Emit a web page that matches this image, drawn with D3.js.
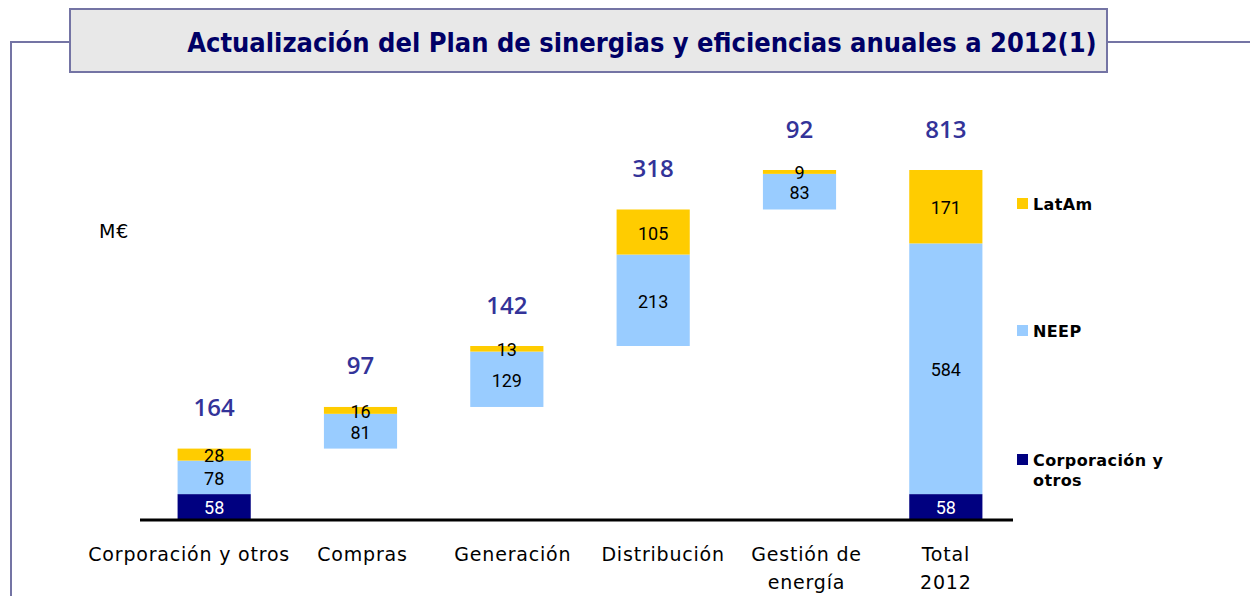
<!DOCTYPE html>
<html>
  <head>
    <meta charset="utf-8">
    <title>Plan de sinergias</title>
    <script src="https://cdn.jsdelivr.net/npm/d3@7"></script>
    <style>
      body { margin: 0; background: #fff; }
    </style>
  </head>
  <body>
    <script type="text/javascript">
      // data (M€)
      var categories = ["Corporación y otros", "Compras", "Generación", "Distribución", "Gestión de energía", "Total 2012"];
      var catLines = [["Corporación y otros"], ["Compras"], ["Generación"], ["Distribución"], ["Gestión de", "energía"], ["Total", "2012"]];
      var corp  = [58, 0, 0, 0, 0, 58];
      var neep  = [78, 81, 129, 213, 83, 584];
      var latam = [28, 16, 13, 105, 9, 171];
      var series = ["Corporación y otros", "NEEP", "LatAm"];
      var colors = ["#000080", "#99ccff", "#ffcc00"];

      var w = 1250, h = 596;
      var frame = "#7474a4";
      // labels on the slide are nudged a bit off the bar centres
      var labelShift = [-25, 2, 6, 10, 7, 0];

      var svg = d3.select("body").append("svg")
        .attr("width", w)
        .attr("height", h);

      // frame lines + title box
      svg.append("path")
        .attr("d", "M11,596 V42 H70 M1107,42 H1250")
        .attr("fill", "none")
        .attr("stroke", frame)
        .attr("stroke-width", 2);
      svg.append("rect")
        .attr("x", 70).attr("y", 9)
        .attr("width", 1037).attr("height", 63)
        .attr("fill", "#e8e8e8")
        .attr("stroke", frame)
        .attr("stroke-width", 2);
      svg.append("text")
        .attr("x", 642).attr("y", 42)
        .attr("text-anchor", "middle")
        .attr("dominant-baseline", "central")
        .attr("font-family", "DejaVu Sans Condensed, DejaVu Sans")
        .attr("font-weight", "bold")
        .attr("font-size", 27)
        .attr("fill", "#000066")
        .text("Actualización del Plan de sinergias y eficiencias anuales a 2012(1)");

      // scales
      var x = d3.scaleBand()
        .domain(categories)
        .range([141, 1019])
        .paddingInner(0.5)
        .paddingOuter(0.25);
      var y = d3.scaleLinear()
        .domain([0, 813])
        .range([519, 170]);

      // build waterfall rows
      var rows = [];
      var run = 0;
      categories.forEach(function(c, i) {
        var isTotal = i == categories.length - 1;
        var base = isTotal ? 0 : run;
        var vals = [corp[i], neep[i], latam[i]];
        var acc = base;
        vals.forEach(function(v, s) {
          if (v > 0) {
            rows.push({cat: c, s: s, y0: acc, y1: acc + v, v: v});
          }
          acc += v;
        });
        if (!isTotal) run = acc;
        rows.push({cat: c, total: true, top: acc, v: d3.sum(vals)});
      });

      var segs = rows.filter(function(d) { return !d.total; });
      var tots = rows.filter(function(d) { return d.total; });

      svg.selectAll("rect.seg")
        .data(segs)
        .enter()
        .append("rect")
        .attr("class", "seg")
        .attr("x", function(d) { return x(d.cat); })
        .attr("width", x.bandwidth())
        .attr("y", function(d) { return y(d.y1); })
        .attr("height", function(d) { return y(d.y0) - y(d.y1); })
        .attr("fill", function(d) { return colors[d.s]; });

      svg.selectAll("text.seg")
        .data(segs)
        .enter()
        .append("text")
        .attr("class", "seg")
        .attr("x", function(d) { return x(d.cat) + x.bandwidth() / 2; })
        .attr("y", function(d) { return (y(d.y0) + y(d.y1)) / 2 + 1; })
        .attr("text-anchor", "middle")
        .attr("dominant-baseline", "central")
        .attr("font-family", "Roboto")
        .attr("font-size", 18)
        .attr("fill", function(d) { return d.s == 0 ? "#fff" : "#000"; })
        .text(function(d) { return d.v; });

      svg.selectAll("text.tot")
        .data(tots)
        .enter()
        .append("text")
        .attr("class", "tot")
        .attr("x", function(d) { return x(d.cat) + x.bandwidth() / 2; })
        .attr("y", function(d) { return y(d.top) - 42; })
        .attr("text-anchor", "middle")
        .attr("dominant-baseline", "central")
        .attr("font-family", "Open Sans")
        .attr("font-weight", 600)
        .attr("font-size", 24)
        .attr("fill", "#333399")
        .text(function(d) { return d.v; });

      // baseline
      svg.append("line")
        .attr("x1", 140).attr("x2", 1013)
        .attr("y1", y(0) + 1).attr("y2", y(0) + 1)
        .attr("stroke", "#000")
        .attr("stroke-width", 3);

      // category labels
      var cl = svg.selectAll("text.cat")
        .data(categories)
        .enter()
        .append("text")
        .attr("class", "cat")
        .attr("text-anchor", "middle")
        .attr("font-family", "DejaVu Sans")
        .attr("font-size", 19)
        .attr("letter-spacing", 0.8)
        .attr("fill", "#000");
      cl.selectAll("tspan")
        .data(function(d, i) { return catLines[i].map(function(t) { return {t: t, c: d, i: i}; }); })
        .enter()
        .append("tspan")
        .attr("x", function(d) { return x(d.c) + x.bandwidth() / 2 + labelShift[d.i]; })
        .attr("y", function(d, j) { return 561 + j * 28; })
        .text(function(d) { return d.t; });

      // unit
      svg.append("text")
        .attr("x", 99).attr("y", 238)
        .attr("font-family", "DejaVu Sans")
        .attr("font-size", 19)
        .attr("letter-spacing", 0.8)
        .text("M€");

      // legend
      var legY = [460, 331, 204];
      var leg = svg.selectAll("g.leg")
        .data(series)
        .enter()
        .append("g")
        .attr("class", "leg")
        .attr("transform", function(d, i) { return "translate(1017," + legY[i] + ")"; });
      leg.append("rect")
        .attr("x", 0).attr("y", -6)
        .attr("width", 11).attr("height", 11)
        .attr("fill", function(d, i) { return colors[i]; });
      leg.append("text")
        .attr("font-family", "DejaVu Sans")
        .attr("font-weight", "bold")
        .attr("font-size", 16)
        .attr("letter-spacing", 0.4)
        .each(function(d) {
          var t = d3.select(this);
          var parts = d == "Corporación y otros" ? ["Corporación y", "otros"] : [d];
          parts.forEach(function(p, j) {
            t.append("tspan")
              .attr("x", 16)
              .attr("y", 6 + j * 20)
              .text(p);
          });
        });
    </script>
  </body>
</html>
